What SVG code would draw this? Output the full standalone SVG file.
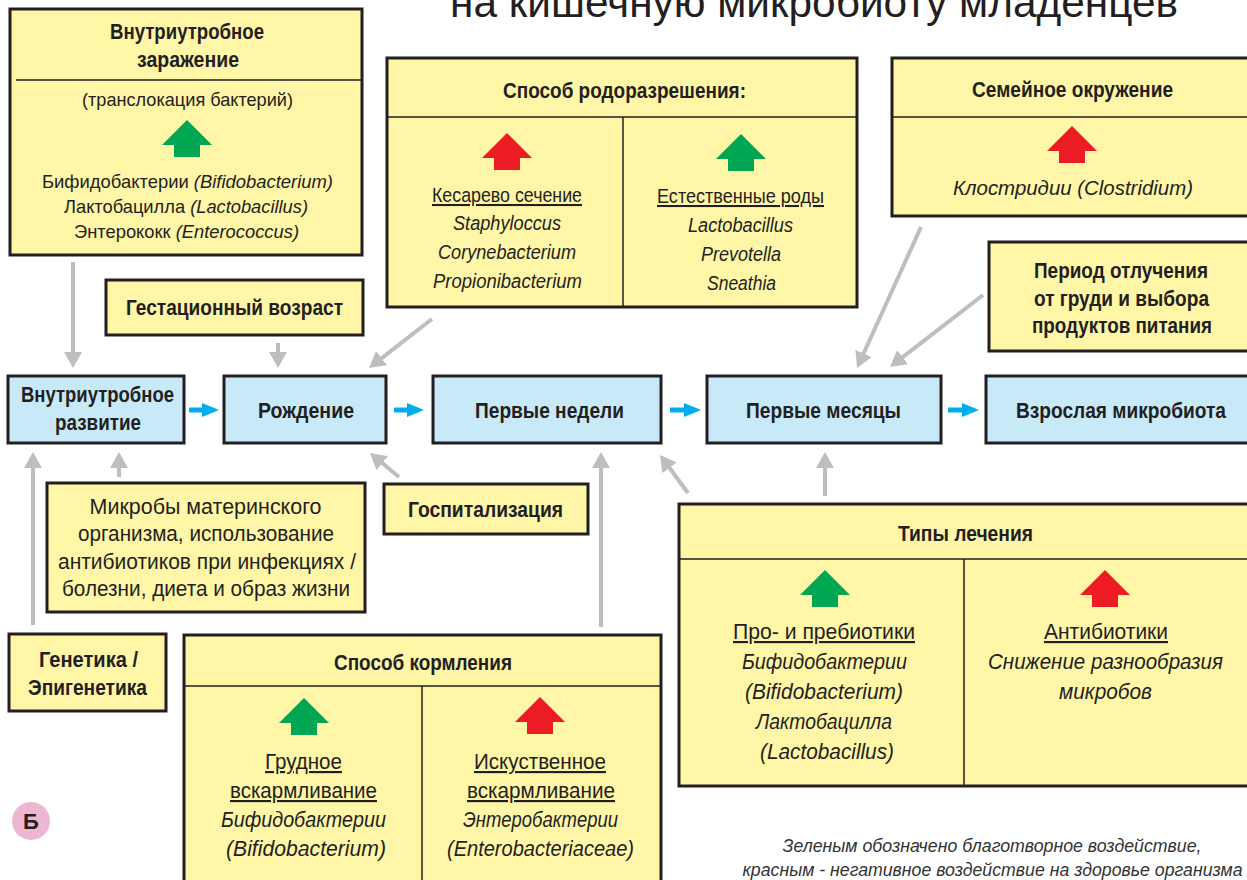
<svg xmlns="http://www.w3.org/2000/svg" width="1247" height="880" viewBox="0 0 1247 880">
<style>
.y{fill:#fff6a7;stroke:#231f20;stroke-width:3}
.b{fill:#c7e9f8;stroke:#231f20;stroke-width:3}
.d{stroke:#231f20;stroke-width:1.5;fill:none}
text{font-family:"Liberation Sans",Arial,sans-serif;fill:#231f20;text-anchor:middle}
.h{font-weight:bold;font-size:22.5px}
.r{font-size:21.5px}
.s{font-size:20.5px}
.t{font-size:19px}
.i{font-style:italic}
.u{text-decoration:underline}
.g{stroke:#bcbec0;stroke-width:4;fill:none;marker-end:url(#ga)}
.bl{stroke:#00aeef;stroke-width:5;fill:none;marker-end:url(#ba)}
.fn{font-size:18px;font-style:italic;fill:#333}
</style>
<defs>
<marker id="ga" viewBox="0 0 16 18" refX="10" refY="9" markerWidth="16" markerHeight="18" markerUnits="userSpaceOnUse" orient="auto"><path d="M0,0 L16,9 L0,18 Z" fill="#bcbec0"/></marker>
<marker id="ba" viewBox="0 0 17 14" refX="11" refY="7" markerWidth="17" markerHeight="14" markerUnits="userSpaceOnUse" orient="auto"><path d="M0,0 L17,7 L0,14 Z" fill="#00aeef"/></marker>
<path id="up" d="M0,0 L25,25 L13,25 L13,37 L-13,37 L-13,25 L-25,25 Z"/>
</defs>

<text x="814" y="17" font-size="42" textLength="728" lengthAdjust="spacingAndGlyphs">на кишечную  микробиоту  младенцев</text>

<g id="connectors">
<line class="g" x1="73" y1="262" x2="73" y2="362"/>
<line class="g" x1="278" y1="343" x2="278" y2="362"/>
<line class="g" x1="432" y1="319" x2="373.7" y2="364.3"/>
<line class="g" x1="921" y1="227" x2="859.5" y2="362.5"/>
<line class="g" x1="983" y1="295" x2="894.7" y2="363.3"/>
<line class="g" x1="33" y1="625" x2="33" y2="458"/>
<line class="g" x1="119" y1="477" x2="119" y2="458"/>
<line class="g" x1="399" y1="477" x2="374.6" y2="456.8"/>
<line class="g" x1="601" y1="627" x2="601" y2="458"/>
<line class="g" x1="688" y1="493" x2="663.6" y2="459.8"/>
<line class="g" x1="825" y1="496" x2="825" y2="458"/>
<line class="bl" x1="189" y1="410" x2="213" y2="410"/>
<line class="bl" x1="394" y1="410" x2="418" y2="410"/>
<line class="bl" x1="670" y1="410" x2="695" y2="410"/>
<line class="bl" x1="948" y1="410" x2="973" y2="410"/>
</g>

<g id="intrauterine-infection">
<rect class="y" x="10" y="9" width="352" height="246"/>
<line class="d" x1="16" y1="80" x2="362" y2="80"/>
<text class="h" x="187" y="39" textLength="154" lengthAdjust="spacingAndGlyphs">Внутриутробное</text>
<text class="h" x="188" y="67" textLength="102" lengthAdjust="spacingAndGlyphs">заражение</text>
<text class="t" x="187.5" y="106" textLength="211" lengthAdjust="spacingAndGlyphs">(транслокация бактерий)</text>
<use href="#up" x="187" y="120" fill="#00a651"/>
<text class="t" x="187.5" y="188" textLength="291" lengthAdjust="spacingAndGlyphs">Бифидобактерии <tspan class="i">(Bifidobacterium)</tspan></text>
<text class="t" x="186" y="213" textLength="244" lengthAdjust="spacingAndGlyphs">Лактобацилла <tspan class="i">(Lactobacillus)</tspan></text>
<text class="t" x="186.5" y="238" textLength="225" lengthAdjust="spacingAndGlyphs">Энтерококк <tspan class="i">(Enterococcus)</tspan></text>
</g>

<g id="delivery-mode">
<rect class="y" x="387" y="58" width="470" height="249"/>
<line class="d" x1="387" y1="117" x2="857" y2="117"/>
<line class="d" x1="623" y1="117" x2="623" y2="307"/>
<text class="h" x="624.5" y="98" textLength="243" lengthAdjust="spacingAndGlyphs">Способ родоразрешения:</text>
<use href="#up" x="507" y="133" fill="#ed1c24"/>
<use href="#up" x="741" y="134" fill="#00a651"/>
<text class="s u" x="507" y="202" textLength="150" lengthAdjust="spacingAndGlyphs">Кесарево сечение</text>
<text class="s i" x="507" y="230" textLength="108" lengthAdjust="spacingAndGlyphs">Staphyloccus</text>
<text class="s i" x="507" y="259" textLength="138" lengthAdjust="spacingAndGlyphs">Corynebacterium</text>
<text class="s i" x="507.5" y="288" textLength="149" lengthAdjust="spacingAndGlyphs">Propionibacterium</text>
<text class="s u" x="740.5" y="203" textLength="167" lengthAdjust="spacingAndGlyphs">Естественные роды</text>
<text class="s i" x="740.5" y="232" textLength="105" lengthAdjust="spacingAndGlyphs">Lactobacillus</text>
<text class="s i" x="741" y="261" textLength="80" lengthAdjust="spacingAndGlyphs">Prevotella</text>
<text class="s i" x="741.5" y="290" textLength="69" lengthAdjust="spacingAndGlyphs">Sneathia</text>
</g>

<g id="family-environment">
<rect class="y" x="892" y="58" width="370" height="158"/>
<line class="d" x1="892" y1="117" x2="1262" y2="117"/>
<text class="h" x="1072.5" y="97" textLength="201" lengthAdjust="spacingAndGlyphs">Семейное окружение</text>
<use href="#up" x="1072" y="126" fill="#ed1c24"/>
<text class="s i" x="1073" y="195" textLength="240" lengthAdjust="spacingAndGlyphs">Клостридии (Clostridium)</text>
</g>

<g id="weaning">
<rect class="y" x="989" y="242" width="270" height="109"/>
<text class="h" x="1121" y="278" textLength="174" lengthAdjust="spacingAndGlyphs">Период отлучения</text>
<text class="h" x="1121.5" y="306" textLength="175" lengthAdjust="spacingAndGlyphs">от груди и выбора</text>
<text class="h" x="1122" y="333" textLength="180" lengthAdjust="spacingAndGlyphs">продуктов питания</text>
</g>

<g id="gestational-age">
<rect class="y" x="106" y="280" width="257" height="55"/>
<text class="h" x="234.5" y="315" textLength="217" lengthAdjust="spacingAndGlyphs">Гестационный возраст</text>
</g>

<g id="intrauterine-development">
<rect class="b" x="8" y="376" width="176" height="67"/>
<text class="h" x="97.5" y="402" textLength="153" lengthAdjust="spacingAndGlyphs">Внутриутробное</text>
<text class="h" x="98" y="430" textLength="86" lengthAdjust="spacingAndGlyphs">развитие</text>
</g>
<g id="birth">
<rect class="b" x="224" y="376" width="162" height="67"/>
<text class="h" x="306" y="418" textLength="96" lengthAdjust="spacingAndGlyphs">Рождение</text>
</g>
<g id="first-weeks">
<rect class="b" x="433" y="376" width="228" height="67"/>
<text class="h" x="549.5" y="418" textLength="149" lengthAdjust="spacingAndGlyphs">Первые недели</text>
</g>
<g id="first-months">
<rect class="b" x="707" y="376" width="234" height="67"/>
<text class="h" x="823.5" y="418" textLength="155" lengthAdjust="spacingAndGlyphs">Первые месяцы</text>
</g>
<g id="adult-microbiota">
<rect class="b" x="986" y="376" width="263" height="67"/>
<text class="h" x="1121" y="418" textLength="210" lengthAdjust="spacingAndGlyphs">Взрослая микробиота</text>
</g>

<g id="maternal-microbes">
<rect class="y" x="47" y="483" width="318" height="129"/>
<text class="r" x="205.5" y="514" textLength="232" lengthAdjust="spacingAndGlyphs">Микробы материнского</text>
<text class="r" x="206" y="541" textLength="256" lengthAdjust="spacingAndGlyphs">организма, использование</text>
<text class="r" x="207" y="569" textLength="298" lengthAdjust="spacingAndGlyphs">антибиотиков при инфекциях /</text>
<text class="r" x="206" y="596" textLength="288" lengthAdjust="spacingAndGlyphs">болезни, диета и образ жизни</text>
</g>

<g id="hospitalization">
<rect class="y" x="384" y="484" width="204" height="50"/>
<text class="h" x="485.5" y="517" textLength="155" lengthAdjust="spacingAndGlyphs">Госпитализация</text>
</g>

<g id="genetics">
<rect class="y" x="9" y="634" width="157" height="77"/>
<text class="h" x="88.5" y="667" textLength="99" lengthAdjust="spacingAndGlyphs">Генетика /</text>
<text class="h" x="87.5" y="695" textLength="119" lengthAdjust="spacingAndGlyphs">Эпигенетика</text>
</g>

<g id="feeding-mode">
<rect class="y" x="184" y="635" width="477" height="260"/>
<line class="d" x1="184" y1="686" x2="661" y2="686"/>
<line class="d" x1="422" y1="686" x2="422" y2="880"/>
<text class="h" x="423" y="670" textLength="178" lengthAdjust="spacingAndGlyphs">Способ кормления</text>
<use href="#up" x="304" y="698" fill="#00a651"/>
<use href="#up" x="540" y="697" fill="#ed1c24"/>
<text class="r u" x="303.5" y="769" textLength="77" lengthAdjust="spacingAndGlyphs">Грудное</text>
<text class="r u" x="303.5" y="798" textLength="147" lengthAdjust="spacingAndGlyphs">вскармливание</text>
<text class="r i" x="303.5" y="827" textLength="165" lengthAdjust="spacingAndGlyphs">Бифидобактерии</text>
<text class="r i" x="306" y="856" textLength="160" lengthAdjust="spacingAndGlyphs">(Bifidobacterium)</text>
<text class="r u" x="540" y="769" textLength="132" lengthAdjust="spacingAndGlyphs">Искуственное</text>
<text class="r u" x="541" y="798" textLength="148" lengthAdjust="spacingAndGlyphs">вскармливание</text>
<text class="r i" x="540.5" y="827" textLength="155" lengthAdjust="spacingAndGlyphs">Энтеробактерии</text>
<text class="r i" x="540.5" y="856" textLength="187" lengthAdjust="spacingAndGlyphs">(Enterobacteriaceae)</text>
</g>

<g id="treatment-types">
<rect class="y" x="679" y="504" width="583" height="282"/>
<line class="d" x1="679" y1="559" x2="1262" y2="559"/>
<line class="d" x1="964" y1="559" x2="964" y2="786"/>
<text class="h" x="965.5" y="541" textLength="135" lengthAdjust="spacingAndGlyphs">Типы лечения</text>
<use href="#up" x="825" y="570" fill="#00a651"/>
<use href="#up" x="1105" y="570" fill="#ed1c24"/>
<text class="r u" x="824" y="639" textLength="182" lengthAdjust="spacingAndGlyphs">Про- и пребиотики</text>
<text class="r i" x="824.5" y="669" textLength="165" lengthAdjust="spacingAndGlyphs">Бифидобактерии</text>
<text class="r i" x="824" y="699" textLength="158" lengthAdjust="spacingAndGlyphs">(Bifidobacterium)</text>
<text class="r i" x="824" y="729" textLength="136" lengthAdjust="spacingAndGlyphs">Лактобацилла</text>
<text class="r i" x="827" y="759" textLength="134" lengthAdjust="spacingAndGlyphs">(Lactobacillus)</text>
<text class="r u" x="1106" y="639" textLength="124" lengthAdjust="spacingAndGlyphs">Антибиотики</text>
<text class="r i" x="1105.5" y="669" textLength="235" lengthAdjust="spacingAndGlyphs">Снижение разнообразия</text>
<text class="r i" x="1105.5" y="699" textLength="93" lengthAdjust="spacingAndGlyphs">микробов</text>
</g>

<g id="badge">
<circle cx="31" cy="821" r="19" fill="#efb6d3"/>
<text x="31" y="829" font-size="22" font-weight="bold">Б</text>
</g>

<g id="footnote">
<text class="fn" x="992" y="852" textLength="419" lengthAdjust="spacingAndGlyphs">Зеленым обозначено благотворное воздействие,</text>
<text class="fn" x="992.5" y="876" textLength="500" lengthAdjust="spacingAndGlyphs">красным - негативное воздействие на здоровье организма</text>
</g>
</svg>
